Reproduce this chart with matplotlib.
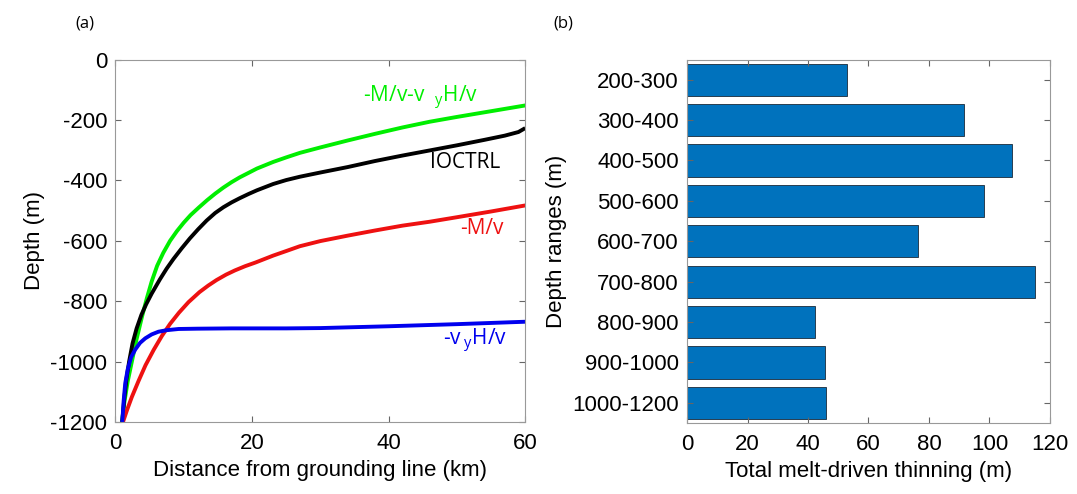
import numpy as np
import matplotlib.pyplot as plt

plt.rcParams['font.family'] = ['Liberation Sans', 'DejaVu Sans']
plt.rcParams['mathtext.default'] = 'regular'
plt.rcParams['axes.unicode_minus'] = False

# panel (a) curves: distance (km), depth (m)
green_x = [0.95, 1.3, 1.8, 2.4, 3.1, 3.9, 4.6, 5.3, 6.1, 7.0, 8.0, 9.0, 10.0, 11.0, 12.2, 13.4, 14.6, 15.8,
           17.0, 18.2, 19.5, 20.7, 23.1, 25, 27, 30, 34, 38, 42, 46, 50, 55, 60]
green_y = [-1200, -1135, -1065, -1000, -925, -850, -790, -735, -683, -640, -600, -568, -540, -515, -490, -466, -444, -424,
           -406, -390, -375, -361, -339, -324, -309, -291, -268, -246, -225, -206, -190, -171, -152]
black_x = [1.0, 1.3, 1.6, 2.0, 2.5, 3.1, 3.8, 4.5, 5.3, 6.5, 7.5, 8.5, 9.7, 10.9, 12.1, 13.35, 14.6, 15.8, 17.0,
           18.2, 19.5, 20.7, 23.1, 25, 27, 30, 34, 38, 42, 46, 50, 54, 57, 59, 60]
black_y = [-1200, -1120, -1060, -1000, -940, -890, -845, -810, -775, -728, -692, -660, -625, -592, -562, -533, -508, -489, -473,
           -459, -445, -433, -412, -399, -388, -374, -356, -336, -318, -301, -284, -266, -252, -240, -227]
red_x = [1.1, 1.7, 2.4, 3.4, 4.4, 5.6, 6.8, 8.0, 9.3, 10.7, 12.3, 13.6, 14.8, 16.2, 17.5, 19.0, 20.5, 23.1,
         25, 27, 30, 34, 38, 42, 46, 50, 55, 60]
red_y = [-1200, -1160, -1117, -1063, -1012, -961, -915, -875, -838, -803, -770, -748, -730, -712, -698, -684, -672, -649,
         -634, -618, -601, -583, -566, -550, -537, -522, -503, -483]
blue_x = [1.0, 1.2, 1.43, 1.8, 2.3, 2.9, 3.6, 4.36, 5.3, 6.3, 7.5, 9.25, 12, 17, 25, 30, 40, 50, 60]
blue_y = [-1200, -1130, -1072, -1025, -985, -960, -938, -923, -910, -901, -896, -892, -891, -890, -890, -889, -883, -876, -868]

# panel (b) bars
ranges = ['200-300', '300-400', '400-500', '500-600', '600-700',
          '700-800', '800-900', '900-1000', '1000-1200']
thinning = [53, 91.7, 107.3, 98.1, 76.4, 114.9, 42.4, 45.6, 46.0]

fig = plt.figure(figsize=(10.77, 4.94), dpi=100)
ax1 = fig.add_axes([0.1072, 0.1457, 0.3805, 0.7338])
ax2 = fig.add_axes([0.6379, 0.1437, 0.3370, 0.7358])

lw = 2.8
kw = dict(lw=lw, solid_joinstyle='round', solid_capstyle='butt')
ax1.plot(green_x, green_y, color='#00ee00', **kw)
ax1.plot(black_x, black_y, color='black', **kw)
ax1.plot(red_x, red_y, color='#ee1111', **kw)
ax1.plot(blue_x, blue_y, color='#0000ee', **kw)
ax1.set_xlim(0, 60)
ax1.set_ylim(-1200, 0)
ax1.set_xticks([0, 20, 40, 60])
ax1.set_yticks(np.arange(-1200, 1, 200))
ax1.set_xlabel('Distance from grounding line (km)', fontsize=16)
ax1.set_ylabel('Depth (m)', fontsize=16)

tf = ['Open Sans', 'DejaVu Sans']
ax1.text(36.3, -127, r'-M/v-v  $_{y}$H/v', color='#00ee00', fontsize=15, family=tf, va='center')
ax1.text(46, -342, 'IOCTRL', color='black', fontsize=15, family=tf, va='center')
ax1.text(50.4, -561, '-M/v', color='#ee1111', fontsize=15, family=tf, va='center')
ax1.text(48.0, -931, r'-v$\,_{y}$H/v', color='#0000ee', fontsize=15, family=tf, va='center')

yy = np.arange(1, len(ranges) + 1)
ax2.barh(yy, thinning, height=0.8, color='#0072BD', edgecolor='#1a2a3a', linewidth=0.6)
ax2.set_ylim(9.5, 0.5)
ax2.set_xlim(0, 120)
ax2.set_yticks(yy)
ax2.set_yticklabels(ranges)
ax2.set_xticks(np.arange(0, 121, 20))
ax2.set_xlabel('Total melt-driven thinning (m)', fontsize=16)
ax2.set_ylabel('Depth ranges (m)', fontsize=16)

for ax in (ax1, ax2):
    for s in ax.spines.values():
        s.set_color('0.6')
        s.set_linewidth(0.8)
    ax.tick_params(direction='in', top=True, right=True, labelsize=16,
                   color='0.4', length=4)
    ax.tick_params(axis='x', pad=8)
    ax.tick_params(axis='y', pad=6)

fig.text(0.079, 0.953, '(a)', fontsize=12, family=tf, va='center', ha='center')
fig.text(0.523, 0.953, '(b)', fontsize=12, family=tf, va='center', ha='center')

fig.savefig('out.png', dpi=100)
